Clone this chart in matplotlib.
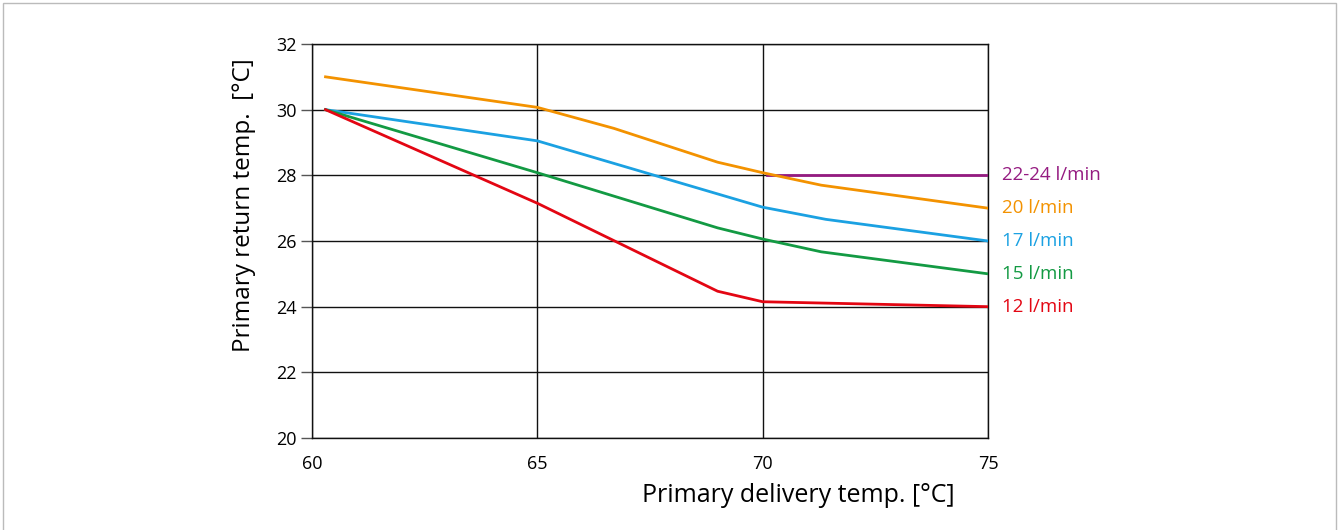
import matplotlib.pyplot as plt
from matplotlib.patches import Rectangle

plt.rcParams['font.family'] = ['Open Sans', 'DejaVu Sans']

# flow rates and their curves (delivery temp -> return temp)
flow_labels = ['22-24 l/min', '20 l/min', '17 l/min', '15 l/min', '12 l/min']
flow_colors = ['#951B81', '#F39200', '#1BA1E2', '#139A43', '#E30613']

delivery_22 = [70.1, 75.0]
return_22 = [28.0, 28.0]
delivery_20 = [60.3, 65.0, 66.7, 69.0, 70.0, 71.3, 75.0]
return_20 = [31.0, 30.07, 29.43, 28.4, 28.08, 27.7, 27.0]
delivery_17 = [60.3, 65.0, 70.0, 71.4, 75.0]
return_17 = [30.0, 29.05, 27.03, 26.66, 26.0]
delivery_15 = [60.3, 65.0, 69.0, 70.0, 71.3, 75.0]
return_15 = [30.0, 28.08, 26.4, 26.06, 25.67, 25.0]
delivery_12 = [60.3, 65.0, 69.0, 70.0, 75.0]
return_12 = [30.0, 27.15, 24.47, 24.15, 24.0]

x_ticks = [60, 65, 70, 75]
y_ticks = [20, 22, 24, 26, 28, 30, 32]

curves = [(delivery_22, return_22), (delivery_20, return_20), (delivery_17, return_17),
          (delivery_15, return_15), (delivery_12, return_12)]

fig = plt.figure(figsize=(13.39, 5.30), dpi=100)
ax = fig.add_axes([312 / 1339, 1 - 438 / 530, 676 / 1339, 394 / 530])

for x in x_ticks:
    ax.axvline(x, color='#111111', lw=1, zorder=1)
for y in y_ticks:
    ax.axhline(y, color='#111111', lw=1, zorder=1)

for (xs, ys), lab, col in zip(curves, flow_labels, flow_colors):
    ax.plot(xs, ys, color=col, lw=2, zorder=3)
    ax.annotate(lab, xy=(xs[-1], ys[-1]), xytext=(10, 0), textcoords='offset points',
                color=col, fontsize=13.5, va='center', ha='left', annotation_clip=False)

ax.set_xlim(60, 75)
ax.set_ylim(20, 32)
ax.set_xticks(x_ticks)
ax.set_yticks(y_ticks)
ax.tick_params(axis='x', length=0, pad=12, labelsize=13)
ax.tick_params(axis='y', length=8, width=1, color='#555555', pad=3, labelsize=13)
for s in ax.spines.values():
    s.set_color('#111111')
    s.set_linewidth(1)

ax.set_xlabel('Primary delivery temp. [°C]', fontsize=18)
ax.xaxis.set_label_coords(0.72, -0.115)
ax.set_ylabel('Primary return temp.  [°C]', fontsize=17.5)
ax.yaxis.set_label_coords(-0.083, 0.59)

fig.patches.append(Rectangle((3 / 1339, -0.1), 1333 / 1339, 1.1 - 3 / 530, transform=fig.transFigure,
                             fill=False, edgecolor='#bbbbbb', lw=1))

fig.savefig('out.png', dpi=100)
